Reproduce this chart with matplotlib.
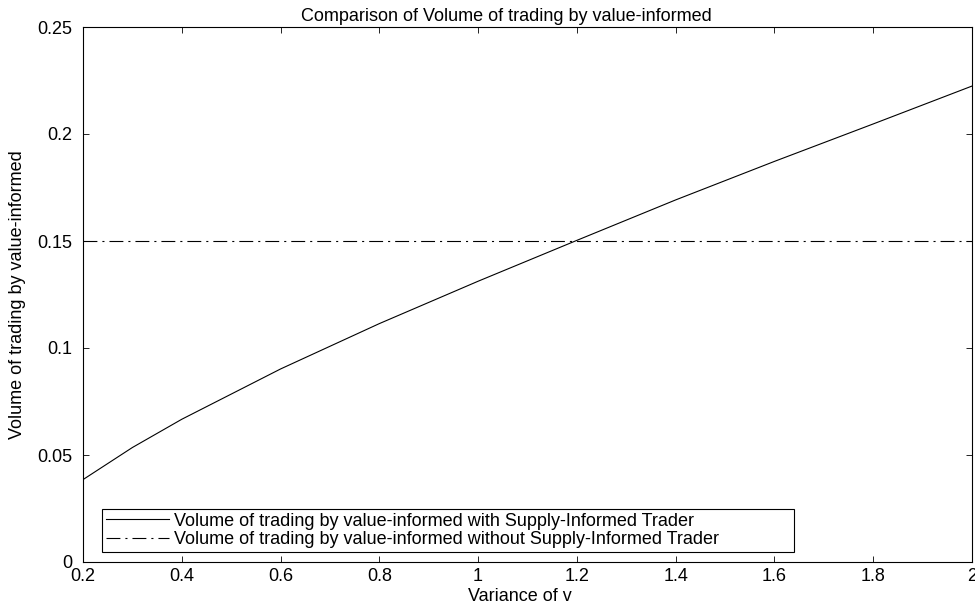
"""Volume of trading by value-informed traders vs. variance of v."""
import matplotlib
matplotlib.use("Agg")
import matplotlib.pyplot as plt

plt.rcParams.update({
    "font.family": ["Liberation Sans", "DejaVu Sans"],
    "font.size": 13,
    "lines.scale_dashes": False,
})

# values
variance = [0.2, 0.3, 0.4, 0.6, 0.8, 1.0, 1.2, 1.4, 1.6, 1.8, 2.0]
with_supply = [0.0385, 0.0535, 0.0667, 0.0902, 0.1114, 0.1312, 0.1503, 0.1692, 0.1872, 0.2047, 0.2224]
without_supply = [0.15] * len(variance)

x_ticks = [0.2, 0.4, 0.6, 0.8, 1.0, 1.2, 1.4, 1.6, 1.8, 2.0]
x_tick_labels = ["0.2", "0.4", "0.6", "0.8", "1", "1.2", "1.4", "1.6", "1.8", "2"]
y_ticks = [0, 0.05, 0.1, 0.15, 0.2, 0.25]
y_tick_labels = ["0", "0.05", "0.1", "0.15", "0.2", "0.25"]

fig = plt.figure(figsize=(9.75, 6.06), dpi=100)
ax = fig.add_axes([83 / 975, 44 / 606, 889 / 975, 535 / 606])

ax.plot(variance, with_supply, color="black", lw=0.8,
        label="Volume of trading by value-informed with Supply-Informed Trader")
ax.plot(variance, without_supply, color="black", lw=0.8, linestyle=(0, (10, 3.6, 1.5, 3.6)),
        label="Volume of trading by value-informed without Supply-Informed Trader")

ax.set_xlim(0.2, 2.0)
ax.set_ylim(0, 0.25)
ax.set_xticks(x_ticks, x_tick_labels)
ax.set_yticks(y_ticks, y_tick_labels)
ax.tick_params(direction="in", length=4.5, width=0.6, top=True, right=True, labelsize=13)
ax.tick_params(axis="x", pad=4.5)
ax.tick_params(axis="y", pad=8)
for s in ax.spines.values():
    s.set_linewidth(0.8)

# the reference's title and x label sit a little left of the axes centre
ax.set_title("Comparison of Volume of trading by value-informed", fontsize=13, pad=4, x=0.476)
ax.set_xlabel("Variance of v", labelpad=0)
ax.xaxis.set_label_coords(0.4916, -0.048)
ax.set_ylabel("Volume of trading by value-informed", labelpad=8)

leg = ax.legend(loc="lower left", bbox_to_anchor=(0.0214, 0.0187, 0.778, 0.08), mode="expand",
                borderaxespad=0, fancybox=False, edgecolor="black", framealpha=1,
                handlelength=3.5, handletextpad=0.3, labelspacing=0.1, borderpad=0.2,
                fontsize=13)
leg.get_frame().set_linewidth(0.8)

fig.savefig("out.png", dpi=100)
